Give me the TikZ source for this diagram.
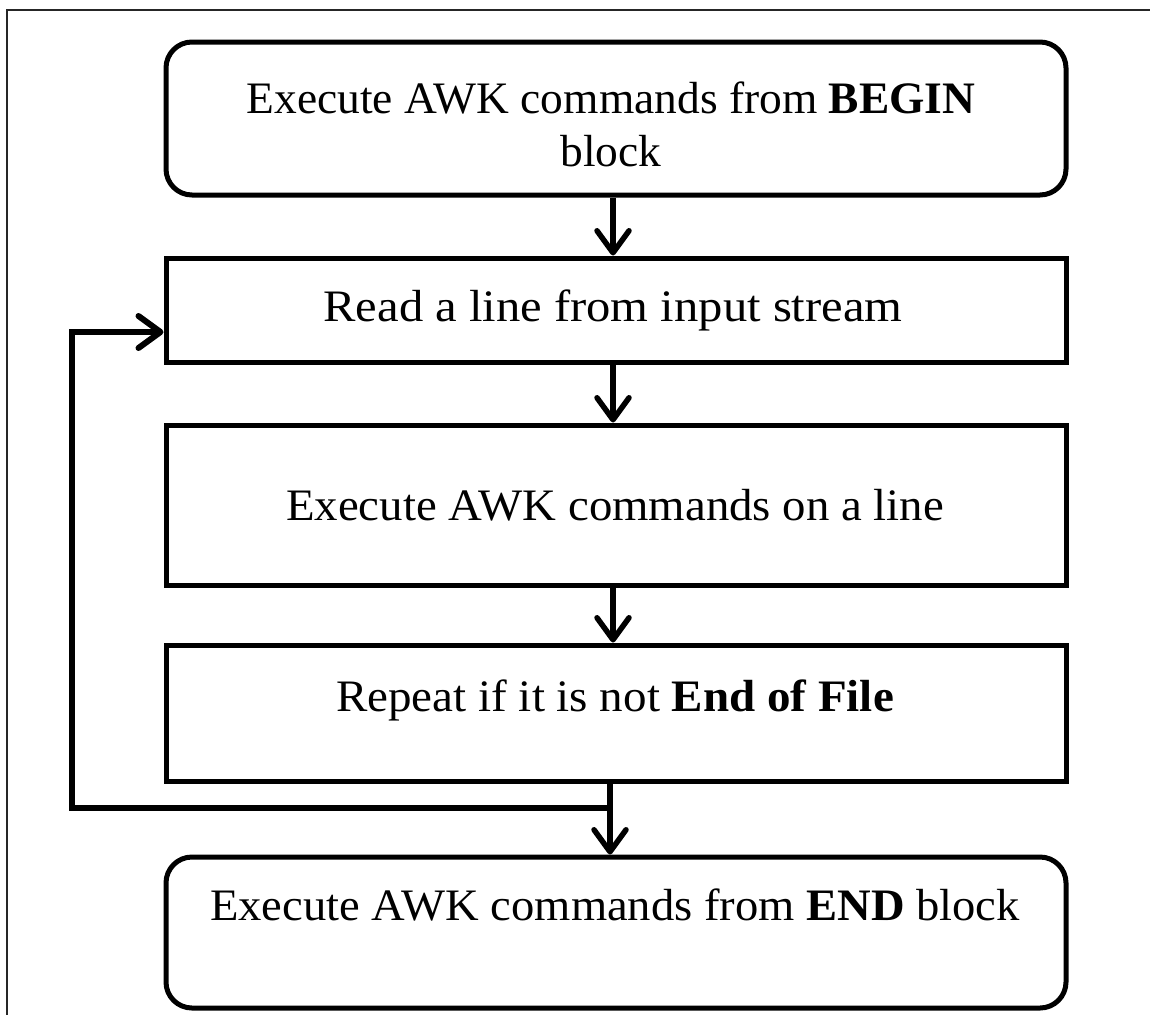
\documentclass[tikz,border=0pt]{standalone}
\usepackage{fontspec}
\setmainfont{Liberation Serif}
\usetikzlibrary{arrows.meta}
\tikzset{
  box/.style={draw=black, line width=5pt, minimum width=900pt, inner sep=0pt},
  rbox/.style={box, rounded corners=26pt},
  txt/.style={font=\fontsize{45}{53}\selectfont, align=center, inner sep=0pt, transform shape},
  tip/.style={-{Straight Barb[length=22pt, width=32pt, line cap=round, line join=round]}},
  flow/.style={line width=5.5pt, tip},
  back/.style={line width=6pt, line join=miter, tip},
  frame/.style={line width=2pt, draw=black!85}
}
\begin{document}
\begin{tikzpicture}[x=1pt, y=-1pt]
\useasboundingbox (0,0) rectangle (1150,1015);
% partial frame (top and left edges)
\coordinate (ftl) at (7,10);
\coordinate (ftr) at (1150,10);
\coordinate (fbl) at (7,1015);
\draw[frame] (ftr) -- (ftl) -- (fbl);

% boxes
\node[rbox, minimum height=153pt] (b1) at (616,118.5) {};
\node[box,  minimum height=104pt] (b2) at (616,310) {};
\node[box,  minimum height=160pt] (b3) at (616,505) {};
\node[box,  minimum height=136pt] (b4) at (616,713) {};
\node[rbox, minimum height=151pt] (b5) at (616,932.5) {};

% texts
\node[txt, xscale=1.01]  (t1) at (611,124) {Execute AWK commands from \textbf{BEGIN}\\block};
\node[txt, xscale=1.08]  (t2) at (613,310) {Read a line from input stream};
\node[txt, xscale=1.04]  (t3) at (615,505) {Execute AWK commands on a line};
\node[txt, xscale=1.045] (t4) at (615,700) {Repeat if it is not \textbf{End of File}};
\node[txt, xscale=1.035] (t5) at (615,905) {Execute AWK commands from \textbf{END} block};

% connectors
\draw[flow] (b1.south -| 613,0) -- (b2.north -| 613,0);
\draw[flow] (b2.south -| 613,0) -- (b3.north -| 613,0);
\draw[flow] (b3.south -| 613,0) -- (b4.north -| 613,0);
\draw[flow] (b4.south -| 610,0) -- (b5.north -| 610,0);

% loop back
\coordinate (j) at (610,808);
\coordinate (lc) at (72,808);
\coordinate (uc) at (72,332);
\draw[back] (j) -- (lc) -- (uc) -- (uc -| b2.west);
\end{tikzpicture}
\end{document}
